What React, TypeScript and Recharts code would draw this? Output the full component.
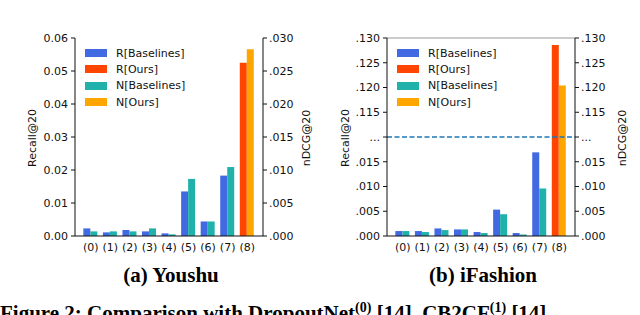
import * as React from "react";
import {
  BarChart,
  Bar,
  Cell,
  XAxis,
  YAxis,
  ReferenceLine,
} from "recharts";

// categories shared by both panels
const methods = ["(0)", "(1)", "(2)", "(3)", "(4)", "(5)", "(6)", "(7)", "(8)"];

// Youshu: recall (left axis) and nDCG (right axis); (8) is ours
const youshuRecall = [0.0023, 0.0011, 0.0018, 0.0014, 0.0008, 0.0135, 0.0044, 0.0183, 0.0525];
const youshuNdcg = [0.0007, 0.0007, 0.0007, 0.00115, 0.00025, 0.00865, 0.0022, 0.01045, 0.0283];

// iFashion: plotted on a broken axis
const ifashionRecall = [0.001, 0.001, 0.00153, 0.00133, 0.0008, 0.00533, 0.0006, 0.0169, 0.1286];
const ifashionNdcg = [0.001, 0.0008, 0.0012, 0.00133, 0.0006, 0.0044, 0.0003, 0.0096, 0.1204];

const youshuRecallTicks = ["0.00", "0.01", "0.02", "0.03", "0.04", "0.05", "0.06"];
const youshuNdcgTicks = [".000", ".005", ".010", ".015", ".020", ".025", ".030"];
const ifashionTicks = [".000", ".005", ".010", ".015", "...", ".115", ".120", ".125", ".130"];

const legendItems = [
  { name: "R[Baselines]", color: "#4169E1" },
  { name: "R[Ours]", color: "#FF4500" },
  { name: "N[Baselines]", color: "#20B2AA" },
  { name: "N[Ours]", color: "#FFA500" },
];

const FONT = "'DejaVu Sans', sans-serif";
const SERIF = "'Liberation Serif', 'Times New Roman', serif";

// broken axis: 0..0.02 then 0.11..0.13, each tick step is one unit
const brk = (v: number) => (v <= 0.02 ? v / 0.005 : 4 + (v - 0.11) / 0.005);

const tickStyle = { fill: "#111", fontSize: 11, fontFamily: FONT };

function LegendBox({ x }: { x: number }) {
  return (
    <div
      style={{
        position: "absolute",
        left: x,
        top: 45,
        fontFamily: FONT,
        fontSize: 11,
        color: "#111",
      }}
    >
      {legendItems.map((it) => (
        <div key={it.name} style={{ display: "flex", alignItems: "center", height: 16.3 }}>
          <span style={{ width: 22, height: 8, background: it.color, marginRight: 9 }} />
          <span>{it.name}</span>
        </div>
      ))}
    </div>
  );
}

function AxisTitle({ x, y, text }: { x: number; y: number; text: string }) {
  return (
    <div
      style={{
        position: "absolute",
        left: x,
        top: y,
        transform: "translate(-50%, -50%) rotate(-90deg)",
        fontFamily: FONT,
        fontSize: 11,
        color: "#111",
        whiteSpace: "nowrap",
      }}
    >
      {text}
    </div>
  );
}

type PanelProps = {
  left: number;
  recall: number[];
  ndcg: number[];
  broken?: boolean;
};

function Panel({ left, recall, ndcg, broken }: PanelProps) {
  const data = methods.map((m, i) => ({
    name: m,
    r: broken ? brk(recall[i]) : recall[i],
    n: broken ? brk(ndcg[i]) : ndcg[i],
  }));
  const last = methods.length - 1;
  return (
    <div style={{ position: "absolute", left, top: 0 }}>
      <BarChart
        width={320}
        height={315}
        data={data}
        margin={{ top: 38, right: 0, bottom: 59, left: 0 }}
        barCategoryGap="12%"
        barGap={0}
      >
        <XAxis
          dataKey="name"
          padding={{ left: 6, right: 6 }}
          tickLine={false}
          tickSize={0}
          tickMargin={7}
          height={20}
          interval={0}
          stroke="#111"
          tick={tickStyle}
        />
        {broken ? (
          <YAxis
            yAxisId="left"
            width={67}
            domain={[0, 8]}
            ticks={[0, 1, 2, 3, 4, 5, 6, 7, 8]}
            interval={0}
            tickFormatter={(v: number) => ifashionTicks[v]}
            tickSize={4}
            tickMargin={3}
            stroke="#111"
            tick={tickStyle}
          />
        ) : (
          <YAxis
            yAxisId="left"
            width={75}
            domain={[0, 0.06]}
            ticks={[0, 0.01, 0.02, 0.03, 0.04, 0.05, 0.06]}
            interval={0}
            tickFormatter={(v: number) => youshuRecallTicks[Math.round(v * 100)]}
            tickSize={4}
            tickMargin={3}
            stroke="#111"
            tick={tickStyle}
          />
        )}
        {broken ? (
          <YAxis
            yAxisId="right"
            orientation="right"
            width={65}
            domain={[0, 8]}
            ticks={[0, 1, 2, 3, 4, 5, 6, 7, 8]}
            interval={0}
            tickFormatter={(v: number) => ifashionTicks[v]}
            tickSize={4}
            tickMargin={2}
            stroke="#111"
            tick={{ ...tickStyle, textAnchor: "start" }}
          />
        ) : (
          <YAxis
            yAxisId="right"
            orientation="right"
            width={57}
            domain={[0, 0.03]}
            ticks={[0, 0.005, 0.01, 0.015, 0.02, 0.025, 0.03]}
            interval={0}
            tickFormatter={(v: number) => youshuNdcgTicks[Math.round(v * 200)]}
            tickSize={4}
            tickMargin={2}
            stroke="#111"
            tick={{ ...tickStyle, textAnchor: "start" }}
          />
        )}
        {broken && (
          <ReferenceLine yAxisId="left" y={8} stroke="#999" strokeWidth={1} />
        )}
        <Bar dataKey="r" yAxisId="left" isAnimationActive={false}>
          {data.map((d, i) => (
            <Cell key={d.name} fill={i === last ? legendItems[1].color : legendItems[0].color} />
          ))}
        </Bar>
        <Bar dataKey="n" yAxisId="right" isAnimationActive={false}>
          {data.map((d, i) => (
            <Cell key={d.name} fill={i === last ? legendItems[3].color : legendItems[2].color} />
          ))}
        </Bar>
        {broken && (
          <ReferenceLine
            yAxisId="left"
            y={4}
            stroke="#1f77b4"
            strokeWidth={1.6}
            strokeDasharray="5 2.5"
          />
        )}
      </BarChart>
      <LegendBox x={broken ? 77 : 85} />
    </div>
  );
}

export default function App() {
  return (
    <div
      style={{
        position: "absolute",
        left: 0,
        top: 0,
        width: 640,
        height: 315,
        overflow: "hidden",
        background: "#fff",
      }}
    >
      <Panel left={0} recall={youshuRecall} ndcg={youshuNdcg} />
      <Panel left={320} recall={ifashionRecall} ndcg={ifashionNdcg} broken />
      <AxisTitle x={32} y={138} text="Recall@20" />
      <AxisTitle x={306} y={138} text="nDCG@20" />
      <AxisTitle x={345} y={138} text="Recall@20" />
      <AxisTitle x={622} y={138} text="nDCG@20" />
      <div
        style={{
          position: "absolute",
          left: 171,
          top: 263,
          transform: "translateX(-50%)",
          fontFamily: SERIF,
          fontWeight: "bold",
          fontSize: 21,
          whiteSpace: "nowrap",
        }}
      >
        (a) Youshu
      </div>
      <div
        style={{
          position: "absolute",
          left: 483,
          top: 263,
          transform: "translateX(-50%)",
          fontFamily: SERIF,
          fontWeight: "bold",
          fontSize: 21,
          whiteSpace: "nowrap",
        }}
      >
        (b) iFashion
      </div>
      <div
        style={{
          position: "absolute",
          left: 0,
          top: 300,
          fontFamily: SERIF,
          fontWeight: "bold",
          fontSize: 21,
          whiteSpace: "nowrap",
        }}
      >
        Figure 2: Comparison with DropoutNet<sup style={{ fontSize: 14 }}>(0)</sup> [14], CB2CF
        <sup style={{ fontSize: 14 }}>(1)</sup> [14]
      </div>
    </div>
  );
}
